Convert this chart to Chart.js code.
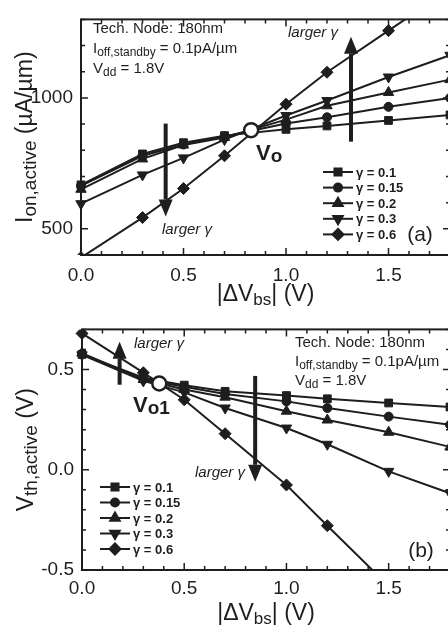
<!DOCTYPE html>
<html lang="en">
<head>
<meta charset="UTF-8">
<title>Ion,active and Vth,active vs |ΔVbs|</title>
<style>
  html, body { margin: 0; padding: 0; background: #fff; overflow: hidden; }
  #wrap { position: relative; width: 448px; height: 628px; overflow: hidden; }
  canvas { position: absolute; left: 0; }
  #chartA { top: 0; }
  #chartB { top: 310px; }
</style>
</head>
<body>
<div id="wrap">
  <canvas id="chartA" width="460" height="310"></canvas>
  <canvas id="chartB" width="460" height="318"></canvas>
</div>
<script src="https://cdn.jsdelivr.net/npm/chart.js"></script>
<script>
// ---- data ----
const vbs = [0, 0.3, 0.5, 0.7, 1.0, 1.2, 1.5, 1.8];
const gammaLabels = ['γ = 0.1', 'γ = 0.15', 'γ = 0.2', 'γ = 0.3', 'γ = 0.6'];

// (a) Ion,active (µA/µm)
const ionG010 = [668, 786, 829, 856, 880, 893, 914, 935];
const ionG015 = [664, 779, 822, 853, 902, 926, 966, 1000];
const ionG020 = [651, 767, 820, 849, 917, 970, 1021, 1070];
const ionG030 = [596, 706, 771, 841, 933, 990, 1080, 1163];
const ionG060 = [390, 543, 654, 779, 976, 1098, 1257, 1416];
const voPoint = { x: 0.83, y: 877 };

// (b) Vth,active (V)
const vthG010 = [0.575, 0.459, 0.422, 0.391, 0.370, 0.354, 0.333, 0.313];
const vthG015 = [0.578, 0.451, 0.414, 0.378, 0.341, 0.308, 0.265, 0.224];
const vthG020 = [0.582, 0.450, 0.400, 0.362, 0.292, 0.248, 0.187, 0.114];
const vthG030 = [0.573, 0.443, 0.386, 0.308, 0.208, 0.127, -0.008, -0.117];
const vthG060 = [0.680, 0.484, 0.349, 0.180, -0.076, -0.279, -0.58, -0.88];
const vo1Point = { x: 0.378, y: 0.43 };

// "larger γ" arrows, in data units
const arrowsA = [{ x: 1.317, from: 833, to: 1234 }, { x: 0.413, from: 902, to: 547 }];
const arrowsB = [{ x: 0.184, from: 0.424, to: 0.638 }, { x: 0.847, from: 0.468, to: -0.06 }];

const techText = ['Tech. Node: 180nm', 'I_{off,standby} = 0.1pA/µm', 'V_{dd} = 1.8V'];

// ---- styling ----
const FONT = '"Liberation Sans", Arial, Helvetica, sans-serif';
const INK = '#1e1e1e';
const markers = [
  { pointStyle: 'rect', radius: 5.5, rotation: 0 },
  { pointStyle: 'circle', radius: 4.5, rotation: 0 },
  { pointStyle: 'triangle', radius: 6, rotation: 0 },
  { pointStyle: 'triangle', radius: 6, rotation: 180 },
  { pointStyle: 'rectRot', radius: 6, rotation: 0 }
];

function fontStr(size, weight, style) {
  return (style || 'normal') + ' ' + (weight || 'normal') + ' ' + size + 'px ' + FONT;
}

// text with _{subscript} parts
function drawRich(ctx, str, x, y, o) {
  const segs = [];
  const re = /_\{([^}]*)\}/g;
  let last = 0, m;
  while ((m = re.exec(str))) {
    if (m.index > last) segs.push({ t: str.slice(last, m.index) });
    segs.push({ t: m[1], sub: true });
    last = re.lastIndex;
  }
  if (last < str.length) segs.push({ t: str.slice(last) });
  let w = 0;
  segs.forEach(s => {
    ctx.font = fontStr(s.sub ? o.sub : o.size, o.weight, o.style);
    s.w = ctx.measureText(s.t).width;
    w += s.w;
  });
  let cx = o.align === 'center' ? x - w / 2 : x;
  ctx.textAlign = 'left';
  ctx.textBaseline = 'alphabetic';
  ctx.fillStyle = INK;
  segs.forEach(s => {
    ctx.font = fontStr(s.sub ? o.sub : o.size, o.weight, o.style);
    ctx.fillText(s.t, cx, y + (s.sub ? o.drop : 0));
    cx += s.w;
  });
}

function isMult(v, step) {
  return Math.abs(v / step - Math.round(v / step)) < 1e-6;
}

// one decimal, no "-0.0"
function fmt1(v) {
  return Math.abs(v) < 1e-9 ? '0.0' : Number(v).toFixed(1);
}

function drawArrow(ctx, x, y0, y1) {
  const dir = y1 < y0 ? -1 : 1;
  const headLen = 17, headW = 7;
  ctx.strokeStyle = INK;
  ctx.fillStyle = INK;
  ctx.lineWidth = 4;
  ctx.beginPath();
  ctx.moveTo(x, y0);
  ctx.lineTo(x, y1 - dir * headLen);
  ctx.stroke();
  ctx.beginPath();
  ctx.moveTo(x, y1);
  ctx.lineTo(x - headW, y1 - dir * headLen);
  ctx.lineTo(x + headW, y1 - dir * headLen);
  ctx.closePath();
  ctx.fill();
}

// frame, inward ticks, titles, notes, legend, arrows
function decor(d) {
  return {
    id: 'decor',
    afterDatasetsDraw(chart) {
      const ctx = chart.ctx, xs = chart.scales.x, ys = chart.scales.y;
      ctx.save();
      d.arrows.forEach(a => drawArrow(ctx, xs.getPixelForValue(a.x), ys.getPixelForValue(a.from), ys.getPixelForValue(a.to)));
      ctx.restore();
    },
    afterDraw(chart) {
      const ctx = chart.ctx, area = chart.chartArea, xs = chart.scales.x, ys = chart.scales.y;
      ctx.save();
      ctx.strokeStyle = INK;
      ctx.lineWidth = 2;
      ctx.strokeRect(area.left, area.top, area.right - area.left, area.bottom - area.top);

      ctx.lineWidth = 1.5;
      ctx.beginPath();
      for (let v = xs.min; v <= xs.max + 1e-9; v += 0.1) {
        const px = xs.getPixelForValue(v), len = isMult(v, 0.5) ? 7 : 4;
        ctx.moveTo(px, area.bottom); ctx.lineTo(px, area.bottom - len);
        ctx.moveTo(px, area.top); ctx.lineTo(px, area.top + len);
      }
      for (let v = ys.min; v <= ys.max + 1e-9; v += d.yStep) {
        const py = ys.getPixelForValue(v), len = isMult(v, d.yMajor) ? 7 : 4;
        ctx.moveTo(area.left, py); ctx.lineTo(area.left + len, py);
        ctx.moveTo(area.right, py); ctx.lineTo(area.right - len, py);
      }
      ctx.stroke();

      // axis titles
      drawRich(ctx, '|ΔV_{bs}| (V)', (area.left + area.right) / 2, d.xTitleY, { size: 23, sub: 17, drop: 4, align: 'center' });
      ctx.save();
      ctx.translate(d.yTitleX, (area.top + area.bottom) / 2);
      ctx.rotate(-Math.PI / 2);
      drawRich(ctx, d.yTitle, 0, 0, { size: 23, sub: 19, drop: 4, align: 'center' });
      ctx.restore();

      // technology notes
      techText.forEach((t, i) => drawRich(ctx, t, d.noteX, d.noteY + i * d.noteGap, { size: 15, sub: 12, drop: 3 }));

      // larger γ labels
      d.larger.forEach(p => drawRich(ctx, 'larger γ', p[0], p[1], { size: 15, sub: 15, drop: 0, style: 'italic', align: 'center' }));

      // Vo label and panel tag
      drawRich(ctx, d.voText, d.voPos[0], d.voPos[1], { size: 22, sub: 19, drop: 2, weight: 'bold' });
      drawRich(ctx, d.tag, d.tagPos[0], d.tagPos[1], { size: 21, sub: 21, drop: 0, align: 'center' });

      // legend: line with marker in the middle
      const lx = d.legendX, lw = 30;
      gammaLabels.forEach((lab, i) => {
        const y = d.legendY + i * d.legendGap;
        ctx.strokeStyle = INK;
        ctx.fillStyle = INK;
        ctx.lineWidth = 2;
        ctx.beginPath();
        ctx.moveTo(lx, y); ctx.lineTo(lx + lw, y);
        ctx.stroke();
        Chart.helpers.drawPoint(ctx, { pointStyle: markers[i].pointStyle, rotation: markers[i].rotation, radius: markers[i].radius - 0.5, borderWidth: 1 }, lx + lw / 2, y);
        ctx.font = fontStr(13, 'bold');
        ctx.textAlign = 'left';
        ctx.textBaseline = 'middle';
        ctx.fillText(lab, lx + lw + 3, y + 1);
      });
      ctx.restore();
    }
  };
}

function makeChart(id, series, special, d) {
  const datasets = [{
    label: 'V0',
    data: [special],
    showLine: false,
    pointStyle: 'circle',
    pointRadius: 7,
    pointBackgroundColor: '#fff',
    pointBorderColor: INK,
    pointBorderWidth: 2.5
  }];
  series.forEach((vals, i) => {
    datasets.push({
      label: gammaLabels[i],
      data: vbs.map((x, j) => ({ x: x, y: vals[j] })),
      borderColor: INK,
      backgroundColor: INK,
      borderWidth: 2,
      tension: 0,
      pointStyle: markers[i].pointStyle,
      pointRadius: markers[i].radius,
      pointRotation: markers[i].rotation,
      pointBackgroundColor: INK,
      pointBorderColor: INK,
      pointBorderWidth: 1,
      clip: { left: 8, right: 8, top: 0, bottom: 0 }
    });
  });
  const tickFont = { family: FONT, size: 19 };
  return new Chart(document.getElementById(id), {
    type: 'line',
    data: { datasets: datasets },
    options: {
      responsive: false,
      animation: false,
      events: [],
      layout: { padding: { top: d.padTop, right: 10, left: 0, bottom: 0 } },
      plugins: { legend: { display: false }, tooltip: { enabled: false } },
      scales: {
        x: {
          type: 'linear', min: 0, max: 1.8,
          afterFit: s => { s.height = d.xHeight; },
          grid: { display: false, drawTicks: false },
          border: { display: false },
          ticks: {
            stepSize: 0.1, autoSkip: false, maxRotation: 0, padding: d.xPad,
            color: INK, font: tickFont,
            callback: v => isMult(v, 0.5) ? fmt1(v) : ''
          }
        },
        y: {
          type: 'linear', min: d.yMin, max: d.yMax,
          afterFit: s => { s.width = d.yWidth; },
          grid: { display: false, drawTicks: false },
          border: { display: false },
          ticks: {
            stepSize: d.yStep, autoSkip: false, padding: 8,
            color: INK, font: tickFont,
            callback: d.yLabel
          }
        }
      }
    },
    plugins: [decor(d)]
  });
}

makeChart('chartA', [ionG010, ionG015, ionG020, ionG030, ionG060], voPoint, {
  padTop: 8, xHeight: 55, yWidth: 81, xPad: 9,
  yMin: 400, yMax: 1300, yStep: 100, yMajor: 500,
  yLabel: v => (v >= 500 && isMult(v, 500)) ? String(Math.round(v)) : '',
  yTitle: 'I_{on,active} (µA/µm)', yTitleX: 32, xTitleY: 301,
  noteX: 93, noteY: 33, noteGap: 20,
  larger: [[313, 37], [187, 234]],
  voText: 'V_{o}', voPos: [256, 160],
  tag: '(a)', tagPos: [420, 241],
  legendX: 323, legendY: 172, legendGap: 15.6,
  arrows: arrowsA
});

makeChart('chartB', [vthG010, vthG015, vthG020, vthG030, vthG060], vo1Point, {
  padTop: 15, xHeight: 58, yWidth: 82, xPad: 7,
  yMin: -0.5, yMax: 0.7, yStep: 0.1, yMajor: 0.5,
  yLabel: v => isMult(v, 0.5) ? fmt1(v) : '',
  yTitle: 'V_{th,active} (V)', yTitleX: 33, xTitleY: 310,
  noteX: 295, noteY: 37, noteGap: 19,
  larger: [[159, 38], [220, 167]],
  voText: 'V_{o1}', voPos: [133, 102],
  tag: '(b)', tagPos: [421, 247],
  legendX: 100, legendY: 177, legendGap: 15.5,
  arrows: arrowsB
});
</script>
</body>
</html>
